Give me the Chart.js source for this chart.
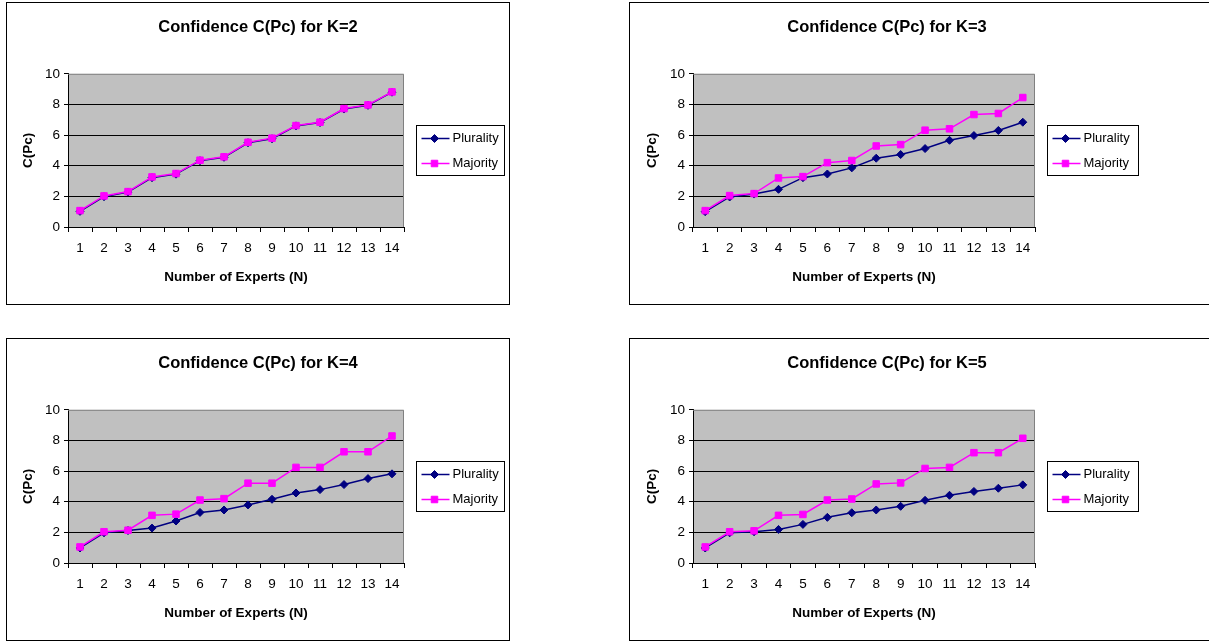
<!DOCTYPE html>
<html>
<head>
<meta charset="utf-8">
<script src="https://cdn.jsdelivr.net/npm/chart.js@4/dist/chart.umd.min.js"></script>
<style>
  html, body { margin: 0; padding: 0; background: #fff; overflow: hidden; width: 1209px; height: 641px; }
  .box { position: absolute; border: 1px solid #000; box-sizing: border-box; background: #fff; }
  .box canvas { position: absolute; left: 0; top: 0; }
</style>
</head>
<body>
<div class="box" style="left:6px;top:2px;width:504px;height:303px;"><canvas id="c1" width="502" height="301" style="width:502px;height:301px"></canvas></div>
<div class="box" style="left:629px;top:2px;width:600px;height:303px;"><canvas id="c2" width="514" height="301" style="width:514px;height:301px"></canvas></div>
<div class="box" style="left:6px;top:338px;width:504px;height:303px;"><canvas id="c3" width="502" height="301" style="width:502px;height:301px"></canvas></div>
<div class="box" style="left:629px;top:338px;width:600px;height:303px;"><canvas id="c4" width="514" height="301" style="width:514px;height:301px"></canvas></div>
<script>
// ---- Data ----
const experts = ['1','2','3','4','5','6','7','8','9','10','11','12','13','14'];
const seriesNames = ['Plurality', 'Majority'];
const titles = ['Confidence C(Pc) for K=2', 'Confidence C(Pc) for K=3', 'Confidence C(Pc) for K=4', 'Confidence C(Pc) for K=5'];
const xTitle = 'Number of Experts (N)';
const yTitle = 'C(Pc)';

const pluralityK2 = [1.02, 1.98, 2.28, 3.22, 3.45, 4.33, 4.55, 5.50, 5.76, 6.60, 6.82, 7.70, 7.94, 8.80];
const majorityK2  = [1.07, 2.03, 2.31, 3.27, 3.49, 4.36, 4.58, 5.53, 5.80, 6.62, 6.84, 7.73, 7.97, 8.82];

const pluralityK3 = [1.00, 1.96, 2.15, 2.46, 3.22, 3.46, 3.86, 4.49, 4.73, 5.12, 5.66, 5.97, 6.30, 6.84];
const majorityK3  = [1.07, 2.05, 2.18, 3.20, 3.29, 4.20, 4.34, 5.29, 5.38, 6.32, 6.41, 7.34, 7.41, 8.45];

const pluralityK4 = [0.98, 1.97, 2.12, 2.28, 2.74, 3.30, 3.46, 3.79, 4.16, 4.57, 4.79, 5.12, 5.51, 5.82];
const majorityK4  = [1.05, 2.04, 2.14, 3.11, 3.19, 4.11, 4.20, 5.21, 5.21, 6.24, 6.24, 7.26, 7.26, 8.29];

const pluralityK5 = [0.98, 1.97, 2.04, 2.19, 2.52, 2.98, 3.28, 3.46, 3.70, 4.09, 4.42, 4.67, 4.88, 5.10];
const majorityK5  = [1.05, 2.04, 2.10, 3.11, 3.17, 4.11, 4.18, 5.16, 5.23, 6.17, 6.24, 7.20, 7.20, 8.14];

// ---- Styling ----
const FONT = "'Liberation Sans', Arial, sans-serif";
const PLUR_COLOR = '#000080';
const MAJ_COLOR = '#FF00FF';

const plotBg = {
  id: 'plotBg',
  afterLayout(chart) {
    // centre the title over the whole chart box (not only the plot + axes)
    const t = chart.titleBlock;
    if (t) { t.left = 0; t.right = chart.width; t.width = chart.width; }
  },
  beforeDraw(chart) {
    const {ctx, chartArea: a} = chart;
    ctx.save();
    ctx.fillStyle = '#C0C0C0';
    ctx.fillRect(a.left, a.top, a.right - a.left, a.bottom - a.top);
    ctx.restore();
  },
  beforeDatasetsDraw(chart) {
    const {ctx, chartArea: a} = chart;
    ctx.save();
    ctx.strokeStyle = '#808080';
    ctx.lineWidth = 1;
    ctx.beginPath();
    ctx.moveTo(a.left, a.top + 0.5);
    ctx.lineTo(a.right - 0.5, a.top + 0.5);
    ctx.lineTo(a.right - 0.5, a.bottom);
    ctx.stroke();
    ctx.restore();
  }
};

const boxLegend = {
  id: 'boxLegend',
  afterDraw(chart, args, opts) {
    const {ctx, chartArea: a} = chart;
    const x = Math.round(a.right + 12) + 0.5;
    const y = Math.round(a.top + 51) + 0.5;
    const w = opts.width, h = 50;
    ctx.save();
    ctx.fillStyle = '#fff';
    ctx.fillRect(x, y, w, h);
    ctx.strokeStyle = '#000';
    ctx.lineWidth = 1;
    ctx.strokeRect(x, y, w, h);
    ctx.font = '13px ' + FONT;
    ctx.textBaseline = 'middle';
    ctx.textAlign = 'left';
    [0, 1].forEach((i) => {
      const ds = chart.data.datasets[i];
      const cy = y + 13 + i * 25;
      ctx.strokeStyle = ds.borderColor;
      ctx.lineWidth = 1.5;
      ctx.beginPath();
      ctx.moveTo(x + 5, cy);
      ctx.lineTo(x + 33, cy);
      ctx.stroke();
      ctx.fillStyle = ds.backgroundColor;
      ctx.strokeStyle = ds.borderColor;
      ctx.lineWidth = 1;
      Chart.helpers.drawPoint(ctx, {pointStyle: ds.pointStyle, radius: ds.pointRadius, borderWidth: 1, rotation: 0}, x + 18, cy);
      ctx.fillStyle = '#000';
      ctx.fillText(ds.label, x + 36, cy);
    });
    ctx.restore();
  }
};

function makeChart(id, title, plur, maj, g) {
  return new Chart(document.getElementById(id), {
    type: 'line',
    data: {
      labels: experts,
      datasets: [
        {
          label: seriesNames[0], data: plur, order: 2,
          borderColor: PLUR_COLOR, backgroundColor: PLUR_COLOR, borderWidth: 1.5,
          pointStyle: 'rectRot', pointRadius: 4, pointBorderWidth: 1, tension: 0
        },
        {
          label: seriesNames[1], data: maj, order: 1,
          borderColor: MAJ_COLOR, backgroundColor: MAJ_COLOR, borderWidth: 1.5,
          pointStyle: 'rect', pointRadius: 4.6, pointBorderWidth: 1, tension: 0
        }
      ]
    },
    options: {
      responsive: false,
      animation: false,
      events: [],
      layout: { padding: { left: 0, right: g.right, top: 0, bottom: 0 } },
      plugins: {
        legend: { display: false },
        tooltip: { enabled: false },
        title: {
          display: true, text: title, color: '#000',
          font: { family: FONT, size: 16.5, weight: 'bold' },
          padding: { top: 15, bottom: 36 }
        },
        boxLegend: { width: g.legendW }
      },
      scales: {
        x: {
          type: 'category',
          offset: true,
          grid: { offset: true, drawOnChartArea: false, drawTicks: true, tickLength: 5, color: '#000', tickColor: '#000' },
          border: { color: '#000', width: 1 },
          ticks: { color: '#000', padding: 8, maxRotation: 0, autoSkip: false, font: { family: FONT, size: 13.5 } },
          title: { display: true, text: xTitle, color: '#000', font: { family: FONT, size: 13.5, weight: 'bold' }, padding: { top: 0, bottom: 19 } },
          afterFit(s) { s.height = 77; }
        },
        y: {
          min: 0, max: 10,
          grid: {
            color: (c) => (c.tick && c.tick.value === 10) ? 'rgba(0,0,0,0)' : '#000',
            tickColor: '#000', tickLength: 4, drawTicks: true
          },
          border: { color: '#000', width: 1 },
          ticks: { stepSize: 2, color: '#000', padding: 4, font: { family: FONT, size: 13.5 } },
          title: { display: true, text: yTitle, color: '#000', font: { family: FONT, size: 13.5, weight: 'bold' }, padding: { top: g.yTitlePad, bottom: 0 } },
          afterFit(s) { s.width = g.yW; }
        }
      }
    },
    plugins: [plotBg, boxLegend]
  });
}

const geomLeft = { right: 105, yW: 61, yTitlePad: 13, legendW: 88 };
const geomRight = { right: 109, yW: 63, yTitlePad: 14, legendW: 91 };

makeChart('c1', titles[0], pluralityK2, majorityK2, geomLeft);
makeChart('c2', titles[1], pluralityK3, majorityK3, geomRight);
makeChart('c3', titles[2], pluralityK4, majorityK4, geomLeft);
makeChart('c4', titles[3], pluralityK5, majorityK5, geomRight);
</script>
</body>
</html>
